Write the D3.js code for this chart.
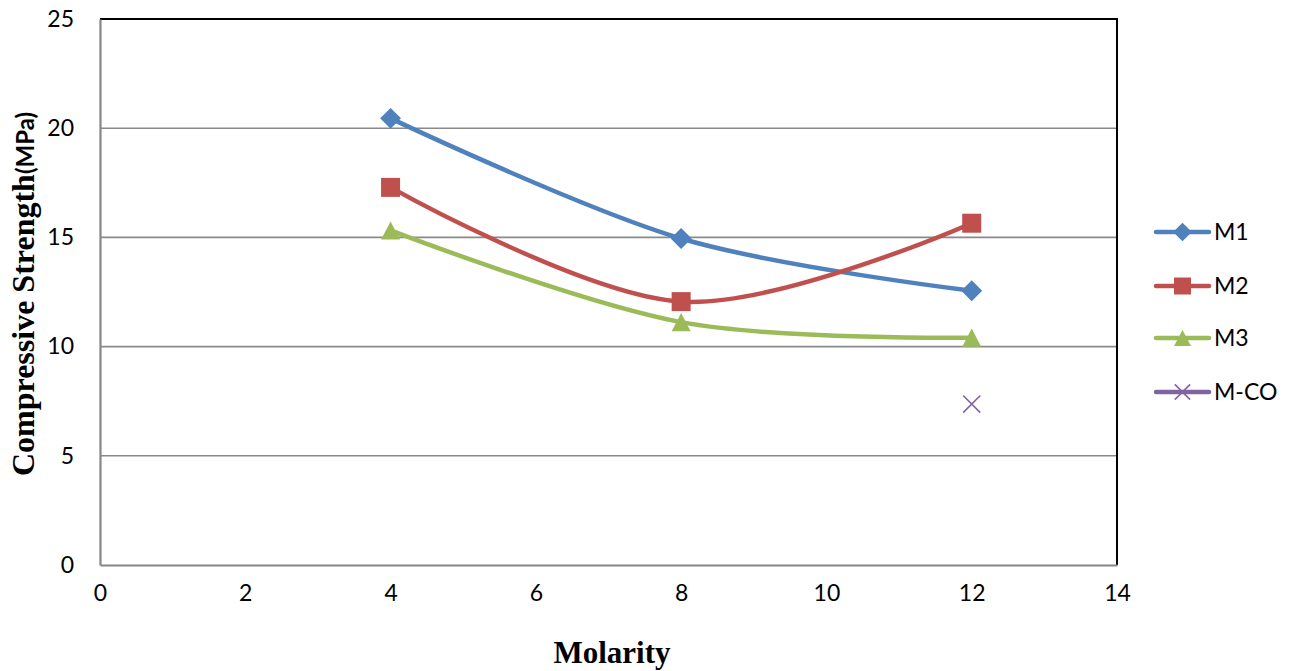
<!DOCTYPE html>
<html>
<head>
<meta charset="utf-8">
<script src="https://cdn.jsdelivr.net/npm/d3@7"></script>
<style>
  html, body { margin: 0; padding: 0; background: #fff; }
  svg { display: block; }
</style>
</head>
<body>
<svg id="chart" width="1293" height="671"></svg>
<script>
const molarity = [4, 8, 12];
const seriesNames = ["M1", "M2", "M3", "M-CO"];
const m1 = [20.45, 14.95, 12.56];
const m2 = [17.29, 12.06, 15.65];
const m3 = [15.32, 11.12, 10.41];
const mco = [null, null, 7.37];
const xTicks = [0, 2, 4, 6, 8, 10, 12, 14];
const yTicks = [0, 5, 10, 15, 20, 25];
const colors = ["#4F81BD", "#C0504D", "#9BBB59", "#8064A2"];
const markers = ["diamond", "square", "triangle", "x"];

const svg = d3.select("#chart");
const pLeft = 100, pRight = 1117, pTop = 19, pBottom = 565;
const x = d3.scaleLinear().domain([0, 14]).range([pLeft, pRight]);
const y = d3.scaleLinear().domain([0, 25]).range([pBottom, pTop]);

const tickFont = "Lato, 'Open Sans', sans-serif";

// gridlines
svg.append("g").selectAll("line").data(yTicks.filter(d => d > 0 && d < 25)).join("line")
  .attr("x1", pLeft).attr("x2", pRight)
  .attr("y1", d => y(d)).attr("y2", d => y(d))
  .attr("stroke", "#8a8a8a").attr("stroke-width", 1.6);

// borders: top and right black
svg.append("line").attr("x1", pLeft).attr("x2", pRight + 1).attr("y1", pTop).attr("y2", pTop)
  .attr("stroke", "#000").attr("stroke-width", 2);
svg.append("line").attr("x1", pRight).attr("x2", pRight).attr("y1", pTop).attr("y2", pBottom)
  .attr("stroke", "#000").attr("stroke-width", 2);

// axes using d3 axis generators
const yAxis = d3.axisLeft(y).tickValues(yTicks).tickSize(0).tickPadding(26).tickFormat(d3.format("d"));
const xAxis = d3.axisBottom(x).tickValues(xTicks).tickSize(0).tickPadding(20).tickFormat(d3.format("d"));

const gy = svg.append("g").attr("transform", `translate(${pLeft},0)`).call(yAxis);
const gx = svg.append("g").attr("transform", `translate(0,${pBottom})`).call(xAxis);
[gx, gy].forEach(g => {
  g.select(".domain").attr("stroke", "#868686").attr("stroke-width", 2.2);
  g.selectAll("text").attr("font-family", tickFont).attr("font-size", 23).attr("fill", "#000");
});

// series
const allSeries = [m1, m2, m3, mco];
const line = d3.line()
  .defined(d => d.v !== null)
  .x(d => x(d.m)).y(d => y(d.v))
  .curve(d3.curveCatmullRom.alpha(0));

function drawMarker(g, type, cx, cy, color, s) {
  if (type === "diamond") {
    const r = s * 0.55;
    g.append("path").attr("d", `M${cx},${cy - r}L${cx + r},${cy}L${cx},${cy + r}L${cx - r},${cy}Z`).attr("fill", color);
  } else if (type === "square") {
    g.append("rect").attr("x", cx - s / 2).attr("y", cy - s / 2).attr("width", s).attr("height", s).attr("fill", color);
  } else if (type === "triangle") {
    const h = s * 0.95;
    g.append("path").attr("d", `M${cx},${cy - h / 2}L${cx + s / 2},${cy + h / 2}L${cx - s / 2},${cy + h / 2}Z`).attr("fill", color);
  } else if (type === "x") {
    const r = s * 0.45;
    g.append("path").attr("d", `M${cx - r},${cy - r}L${cx + r},${cy + r}M${cx + r},${cy - r}L${cx - r},${cy + r}`)
      .attr("stroke", color).attr("stroke-width", 1.6).attr("fill", "none");
  }
}

const plot = svg.append("g");
allSeries.forEach((vals, i) => {
  const data = molarity.map((m, j) => ({ m, v: vals[j] }));
  const pts = data.filter(d => d.v !== null);
  if (pts.length > 1) {
    plot.append("path").datum(data).attr("d", line)
      .attr("fill", "none").attr("stroke", colors[i]).attr("stroke-width", 4.5)
      .attr("stroke-linecap", "round").attr("stroke-linejoin", "round");
  }
});
allSeries.forEach((vals, i) => {
  molarity.forEach((m, j) => {
    if (vals[j] !== null) drawMarker(plot, markers[i], x(m), y(vals[j]), colors[i], 19);
  });
});

// legend
const lg = svg.append("g");
const legendY = [232, 286, 338, 392];
seriesNames.forEach((name, i) => {
  const cy = legendY[i];
  lg.append("line").attr("x1", 1156).attr("x2", 1209).attr("y1", cy).attr("y2", cy)
    .attr("stroke", colors[i]).attr("stroke-width", 4.5).attr("stroke-linecap", "round");
  drawMarker(lg, markers[i], 1182.5, cy, colors[i], 17);
  lg.append("text").attr("x", 1214).attr("y", cy).attr("dy", "0.36em")
    .attr("font-family", tickFont).attr("font-size", 23).attr("fill", "#000").text(name);
});

// axis titles
svg.append("text").attr("x", 612).attr("y", 663).attr("text-anchor", "middle")
  .attr("font-family", "'Liberation Serif', 'Times New Roman', serif").attr("font-weight", "bold")
  .attr("font-size", 31).attr("fill", "#000").text("Molarity");

const yt = svg.append("text").attr("transform", "translate(34,294) rotate(-90)").attr("text-anchor", "middle")
  .attr("fill", "#000");
yt.append("tspan").attr("font-family", "'Liberation Serif', 'Times New Roman', serif").attr("font-weight", "bold")
  .attr("font-size", 32).text("Compressive Strength");
yt.append("tspan").attr("font-family", "Lato, 'Open Sans', sans-serif").attr("font-weight", "bold")
  .attr("font-size", 24).text("(MPa)");
</script>
</body>
</html>
